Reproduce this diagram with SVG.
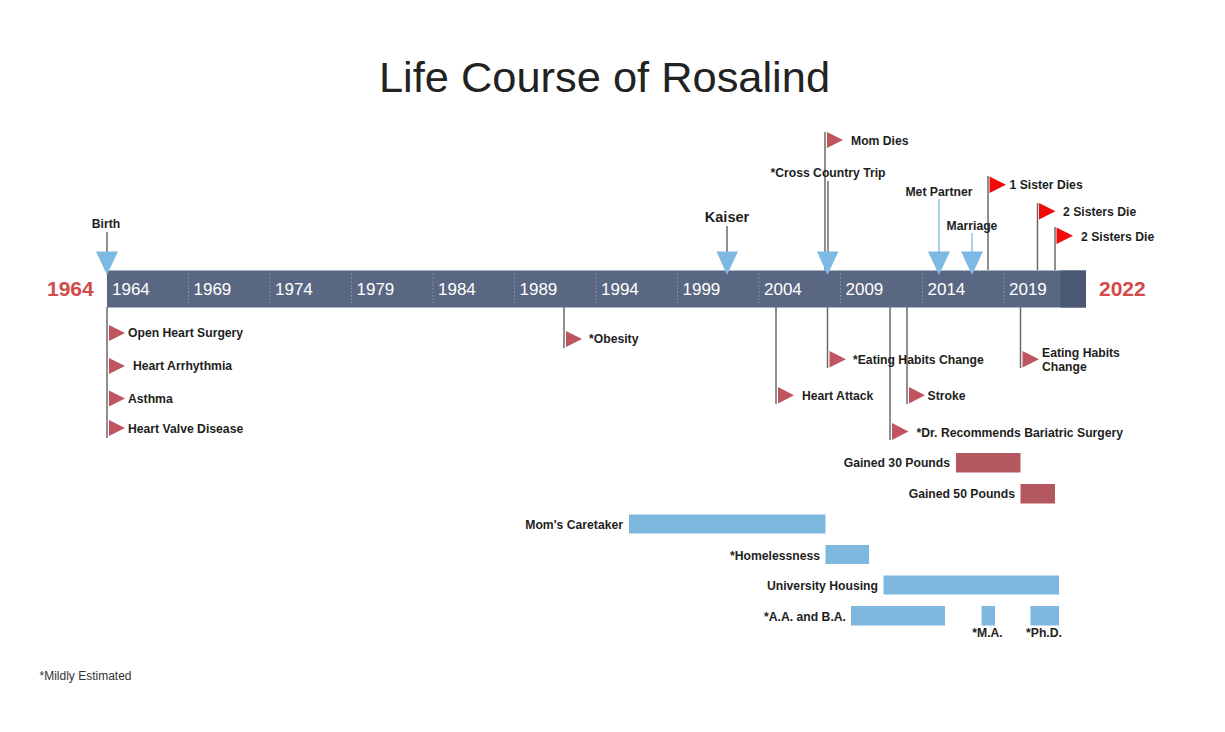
<svg xmlns="http://www.w3.org/2000/svg" width="1225" height="732" viewBox="0 0 1225 732">
<style>
text{font-family:"Liberation Sans",Arial,sans-serif}
.lbl{font-size:12.2px;font-weight:bold;fill:#1e1e1e}
.yr{font-size:17px;fill:#ffffff}
.big{font-size:21px;font-weight:bold;fill:#d14b4b}
.pole{stroke:#6a6a6a;stroke-width:1.5;fill:none}
.bpole{stroke:#8ec4e8;stroke-width:1.5;fill:none}
.sep{stroke:#8d97ab;stroke-width:1;stroke-dasharray:1.5 2}
.tri{fill:#7db9e2}
.flag{fill:#bf5561}
.rflag{fill:#f00a0a}
.rbar{fill:#b5575f}
.bbar{fill:#7fb8df}
.e{text-anchor:end}
.m{text-anchor:middle}
</style>
<rect width="1225" height="732" fill="#ffffff"/>
<text x="604.5" y="92" class="m" style="font-size:43.4px;fill:#222">Life Course of Rosalind</text>

<g id="timeline">
<rect x="107" y="270.5" width="979" height="37" fill="#5a6782"/>
<rect x="1060.5" y="270.5" width="25.5" height="37" fill="#4b5874"/>
<g class="sep">
<line x1="188.5" y1="274" x2="188.5" y2="303"/><line x1="270" y1="274" x2="270" y2="303"/><line x1="351.5" y1="274" x2="351.5" y2="303"/><line x1="433" y1="274" x2="433" y2="303"/><line x1="514.5" y1="274" x2="514.5" y2="303"/><line x1="596" y1="274" x2="596" y2="303"/><line x1="677.5" y1="274" x2="677.5" y2="303"/><line x1="759" y1="274" x2="759" y2="303"/><line x1="840.5" y1="274" x2="840.5" y2="303"/><line x1="922.5" y1="274" x2="922.5" y2="303"/><line x1="1004" y1="274" x2="1004" y2="303"/>
</g>
<text class="yr" x="112" y="295">1964</text><text class="yr" x="193.5" y="295">1969</text><text class="yr" x="275" y="295">1974</text><text class="yr" x="356.5" y="295">1979</text><text class="yr" x="438" y="295">1984</text><text class="yr" x="519.5" y="295">1989</text><text class="yr" x="601" y="295">1994</text><text class="yr" x="682.5" y="295">1999</text><text class="yr" x="764" y="295">2004</text><text class="yr" x="845.5" y="295">2009</text><text class="yr" x="927.5" y="295">2014</text><text class="yr" x="1009" y="295">2019</text>
<text class="big" x="47" y="296">1964</text>
<text class="big" x="1099" y="296">2022</text>
</g>

<g id="connectors">
<line class="pole" x1="107" y1="232" x2="107" y2="253"/>
<line class="pole" x1="727" y1="226" x2="727" y2="253"/>
<line class="pole" x1="825" y1="132" x2="825" y2="270"/>
<line class="pole" x1="828" y1="181" x2="828" y2="253"/>
<line class="bpole" x1="939" y1="199" x2="939" y2="253"/>
<line class="bpole" x1="972" y1="233" x2="972" y2="253"/>
<line class="pole" x1="988" y1="176" x2="988" y2="270"/>
<line class="pole" x1="1037.5" y1="203" x2="1037.5" y2="270"/>
<line class="pole" x1="1055" y1="227" x2="1055" y2="270"/>
<line class="pole" x1="107" y1="307" x2="107" y2="438"/>
<line class="pole" x1="564" y1="307" x2="564" y2="348"/>
<line class="pole" x1="776" y1="307" x2="776" y2="404"/>
<line class="pole" x1="827.5" y1="307" x2="827.5" y2="368"/>
<line class="pole" x1="890" y1="307" x2="890" y2="440"/>
<line class="pole" x1="907" y1="307" x2="907" y2="404"/>
<line class="pole" x1="1020.5" y1="307" x2="1020.5" y2="368"/>
</g>

<g id="birth"><text class="lbl m" x="106" y="228">Birth</text><polygon class="tri" points="96,251.5 118,251.5 107,275"/></g>
<g id="kaiser"><text class="m" x="727" y="222" style="font-size:14.5px;font-weight:bold;fill:#1e1e1e">Kaiser</text><polygon class="tri" points="716.5,251.5 738,251.5 727,275"/></g>
<g id="mom-dies"><polygon class="flag" points="827,132 827,148 843,140"/><text class="lbl" x="851" y="144.5">Mom Dies</text></g>
<g id="cross-country"><text class="lbl m" x="828" y="177">*Cross Country Trip</text><polygon class="tri" points="817,251.5 838.5,251.5 827.5,275"/></g>
<g id="met-partner"><text class="lbl m" x="939" y="195.5">Met Partner</text><polygon class="tri" points="928,251.5 950,251.5 939,275"/></g>
<g id="marriage"><text class="lbl m" x="972" y="229.5">Marriage</text><polygon class="tri" points="961,251.5 983,251.5 972,275"/></g>
<g id="sister-dies"><polygon class="rflag" points="989.5,176.5 989.5,193 1006,184.7"/><text class="lbl" x="1009.5" y="189">1 Sister Dies</text></g>
<g id="sisters-die-1"><polygon class="rflag" points="1039,203 1039,219.5 1055.5,211.2"/><text class="lbl" x="1063" y="215.5">2 Sisters Die</text></g>
<g id="sisters-die-2"><polygon class="rflag" points="1056.5,227.5 1056.5,244 1073,235.7"/><text class="lbl" x="1081" y="240.5">2 Sisters Die</text></g>

<g id="open-heart"><polygon class="flag" points="109,325 109,341 125,333"/><text class="lbl" x="128" y="337">Open Heart Surgery</text></g>
<g id="arrhythmia"><polygon class="flag" points="109,358 109,374 125,366"/><text class="lbl" x="133" y="370">Heart Arrhythmia</text></g>
<g id="asthma"><polygon class="flag" points="109,390.5 109,406.5 125,398.5"/><text class="lbl" x="128" y="403">Asthma</text></g>
<g id="valve"><polygon class="flag" points="109,420 109,436 125,428"/><text class="lbl" x="128" y="433">Heart Valve Disease</text></g>
<g id="obesity"><polygon class="flag" points="566,331 566,347 582,339"/><text class="lbl" x="589" y="343">*Obesity</text></g>
<g id="heart-attack"><polygon class="flag" points="778,387 778,403.5 794,395.2"/><text class="lbl" x="802" y="399.5">Heart Attack</text></g>
<g id="eating-1"><polygon class="flag" points="829.5,351 829.5,367.5 846,359.2"/><text class="lbl" x="853" y="363.5">*Eating Habits Change</text></g>
<g id="bariatric"><polygon class="flag" points="892,423 892,440 908.5,431.5"/><text class="lbl" x="916.5" y="436.5">*Dr. Recommends Bariatric Surgery</text></g>
<g id="stroke"><polygon class="flag" points="909,387 909,403.5 925,395.2"/><text class="lbl" x="927.5" y="399.5">Stroke</text></g>
<g id="eating-2"><polygon class="flag" points="1022.5,351 1022.5,367.5 1039,359.2"/><text class="lbl" x="1042" y="357">Eating Habits</text><text class="lbl" x="1042" y="370.5">Change</text></g>

<g id="gained-30"><rect class="rbar" x="956" y="453" width="64.5" height="19.5"/><text class="lbl e" x="950" y="467">Gained 30 Pounds</text></g>
<g id="gained-50"><rect class="rbar" x="1020.5" y="484" width="34.5" height="19.5"/><text class="lbl e" x="1015" y="498">Gained 50 Pounds</text></g>
<g id="caretaker"><rect class="bbar" x="629" y="514.5" width="196.5" height="19"/><text class="lbl e" x="623" y="528.5">Mom's Caretaker</text></g>
<g id="homelessness"><rect class="bbar" x="825.5" y="545" width="43.5" height="19"/><text class="lbl e" x="820" y="559.5">*Homelessness</text></g>
<g id="housing"><rect class="bbar" x="883.5" y="575.5" width="175.5" height="19"/><text class="lbl e" x="878" y="589.5">University Housing</text></g>
<g id="aa-ba"><rect class="bbar" x="851" y="606" width="94" height="19.5"/><text class="lbl e" x="846" y="620.5">*A.A. and B.A.</text></g>
<g id="ma"><rect class="bbar" x="981.5" y="606" width="13.5" height="19.5"/><text class="lbl m" x="987.5" y="637">*M.A.</text></g>
<g id="phd"><rect class="bbar" x="1030.5" y="606" width="28.5" height="19.5"/><text class="lbl m" x="1044" y="637">*Ph.D.</text></g>

<text x="39.5" y="680" style="font-size:12px;fill:#333">*Mildly Estimated</text>
</svg>
